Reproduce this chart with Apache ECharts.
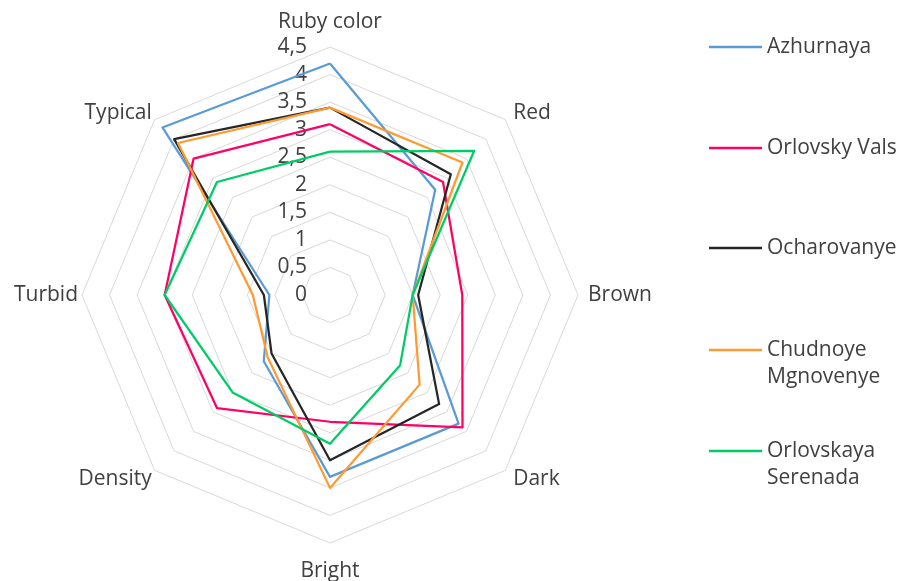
<!DOCTYPE html>
<html>
<head>
<meta charset="utf-8">
<script src="https://cdn.jsdelivr.net/npm/echarts@6/dist/echarts.min.js"></script>
<style>html,body{margin:0;padding:0;background:#fff}#c{width:901px;height:581px}</style>
</head>
<body>
<div id="c"></div>
<script>
// Categories in clockwise order starting at the top
var categories = ['Ruby color', 'Red', 'Brown', 'Dark', 'Bright', 'Density', 'Turbid', 'Typical'];
var tickLabels = ['0', '0,5', '1', '1,5', '2', '2,5', '3', '3,5', '4', '4,5'];
var seriesNames = ['Azhurnaya', 'Orlovsky Vals', 'Ocharovanye', 'Chudnoye Mgnovenye', 'Orlovskaya Serenada'];
var azhurnaya = [4.2, 2.7, 1.5, 3.3, 3.3, 1.7, 1.1, 4.3];
var orlovskyVals = [3.1, 2.9, 2.4, 3.4, 2.3, 2.9, 3.0, 3.5];
var ocharovanye = [3.4, 3.1, 1.6, 2.8, 3.0, 1.5, 1.2, 4.0];
var chudnoyeMgnovenye = [3.4, 3.4, 1.5, 2.3, 3.5, 1.6, 1.4, 3.9];
var orlovskayaSerenada = [2.6, 3.7, 1.5, 1.8, 2.7, 2.5, 3.0, 2.9];
var maxValue = 4.5;

var colors = ['#5B9BD5', '#FF0066', '#262626', '#FF9A33', '#00CC66'];
var allValues = [azhurnaya, orlovskyVals, ocharovanye, chudnoyeMgnovenye, orlovskayaSerenada];

// ECharts radar goes counter-clockwise; reorder to get the clockwise layout
var order = [0, 7, 6, 5, 4, 3, 2, 1];
function reorder(arr) { return order.map(function (i) { return arr[i]; }); }

var FONT = '"Open Sans"';
var FS = 21;
var TXT = '#404040';

var namePad = {
  'Ruby color': [0, 0, 10, 0],
  'Bright': [14, 0, 0, 0],
  'Brown': [0, 0, 0, 6],
  'Red': [0, 0, 8, 5],
  'Dark': [12, 0, 0, 5],
  'Turbid': [0, 0, 0, 0],
  'Density': [12, 0, 0, 0],
  'Typical': [0, 0, 8, 0]
};
var rich = {};
categories.forEach(function (c, i) {
  rich['n' + i] = { padding: namePad[c], fontSize: FS, fontFamily: FONT, color: TXT };
});

var legendTops = [33.5, 134.5, 234.5, 309.5, 410.5];
var legendNames = {
  'Chudnoye Mgnovenye': ' \nChudnoye\nMgnovenye',
  'Orlovskaya Serenada': ' \nOrlovskaya\nSerenada'
};
var legends = seriesNames.map(function (n, i) {
  return {
    data: [n],
    left: 709,
    top: legendTops[i],
    orient: 'vertical',
    padding: 0,
    icon: 'rect',
    itemWidth: 53,
    itemHeight: 2.5,
    formatter: function (name) { return legendNames[name] || name; },
    textStyle: { fontSize: FS, fontFamily: FONT, color: TXT, lineHeight: 27 }
  };
});

var option = {
  animation: false,
  backgroundColor: '#ffffff',
  color: colors,
  legend: legends,
  radar: {
    center: [330, 295],
    radius: 248,
    startAngle: 90,
    splitNumber: 9,
    shape: 'polygon',
    nameGap: 4,
    indicator: reorder(categories).map(function (c) { return { name: c, min: 0, max: maxValue }; }),
    axisName: {
      color: TXT, fontSize: FS, fontFamily: FONT,
      formatter: function (name) { return '{n' + categories.indexOf(name) + '|' + name + '}'; },
      rich: rich
    },
    axisLine: { show: false },
    axisTick: { show: false },
    axisLabel: { show: false },
    splitLine: { lineStyle: { color: '#D9D9D9', width: 1 } },
    splitArea: { show: false }
  },
  grid: { left: 330, top: 47, width: 1, height: 248 },
  xAxis: { type: 'value', show: false, min: 0, max: 1 },
  yAxis: {
    type: 'value', min: 0, max: maxValue, interval: 0.5,
    axisLine: { show: false }, axisTick: { show: false }, splitLine: { show: false },
    axisLabel: {
      margin: 23, fontSize: FS, fontFamily: FONT, color: TXT,
      formatter: function (v) { return tickLabels[Math.round(v / 0.5)]; }
    }
  },
  series: [{
    type: 'radar',
    symbol: 'none',
    data: seriesNames.map(function (n, i) {
      return {
        name: n,
        value: reorder(allValues[i]),
        lineStyle: { color: colors[i], width: 2.25 },
        itemStyle: { color: colors[i] }
      };
    })
  }]
};
var chart = echarts.init(document.getElementById('c'), null, { renderer: 'canvas' });
chart.setOption(option);
</script>
</body>
</html>
